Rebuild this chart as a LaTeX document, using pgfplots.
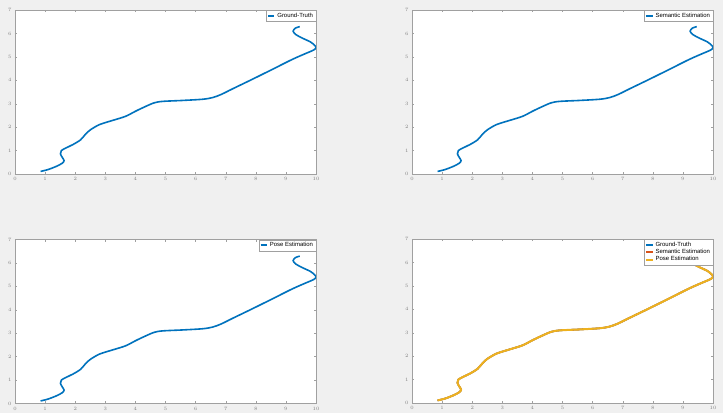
\documentclass[border=0pt]{standalone}
\usepackage{fontspec}
\setmainfont{Liberation Sans}
\usepackage{pgfplots}
\pgfplotsset{compat=1.18}

\definecolor{figbg}{RGB}{240,240,240}
\definecolor{mblue}{RGB}{0,114,189}
\definecolor{mred}{RGB}{217,83,25}
\definecolor{myellow}{RGB}{237,177,32}
\definecolor{axgray}{RGB}{160,160,160}

% trajectory, same for every panel
\pgfplotstableread{
x y
0.85 0.11
1.10 0.19
1.38 0.33
1.57 0.46
1.63 0.57
1.57 0.71
1.51 0.86
1.54 1.00
1.69 1.11
1.93 1.26
2.18 1.46
2.35 1.71
2.51 1.89
2.81 2.11
3.25 2.29
3.67 2.46
4.02 2.69
4.35 2.89
4.63 3.04
4.91 3.10
5.57 3.14
6.23 3.19
6.56 3.26
6.84 3.39
7.22 3.63
7.88 4.04
8.54 4.46
9.21 4.89
9.65 5.14
9.92 5.29
10.00 5.39
9.95 5.50
9.81 5.64
9.53 5.81
9.32 5.96
9.24 6.10
9.32 6.23
9.46 6.29
}\traj

\pgfplotsset{
  panel/.style={
    scale only axis, width=301bp, height=164bp,
    anchor=south west,
    xmin=0, xmax=10, ymin=0, ymax=7,
    xtick={0,...,10}, ytick={0,...,7},
    axis background/.style={fill=white},
    axis line style={axgray, line width=0.4pt},
    tick style={axgray, line width=0.3pt},
    major tick length=2bp,
    tick align=inside,
    ticklabel style={font=\fontsize{2.5}{3}\selectfont, text=gray},
    xtick pos=both, ytick pos=both,
    xticklabel pos=lower, yticklabel pos=left,
    legend style={at={(1,1)}, anchor=north east, draw=axgray,
      font=\fontsize{6}{6.5}\selectfont, inner sep=0.8pt,
      row sep=-2.5pt, cells={anchor=west}},
    legend image code/.code={\draw[#1, line width=2bp] (0,0) -- (0.22cm,0);},
    every axis plot/.append style={smooth, line width=1.6bp},
  }
}

\begin{document}
\begin{tikzpicture}
\fill[figbg] (0,0) rectangle (723bp,413bp);

\begin{axis}[panel, at={(15bp,239bp)}]
\addplot[mblue] table {\traj};
\addlegendentry{Ground-Truth}
\end{axis}

\begin{axis}[panel, at={(412bp,239bp)}]
\addplot[mblue] table {\traj};
\addlegendentry{Semantic Estimation}
\end{axis}

\begin{axis}[panel, at={(15bp,9.5bp)}]
\addplot[mblue] table {\traj};
\addlegendentry{Pose Estimation}
\end{axis}

\begin{axis}[panel, at={(412bp,10bp)}]
\addplot[mblue] table {\traj};
\addlegendentry{Ground-Truth}
\addplot[mred] table {\traj};
\addlegendentry{Semantic Estimation}
\addplot[myellow, line width=2bp] table {\traj};
\addlegendentry{Pose Estimation}
\end{axis}

\pgfresetboundingbox
\path[use as bounding box] (0,0) rectangle (723bp,413bp);
\end{tikzpicture}
\end{document}
